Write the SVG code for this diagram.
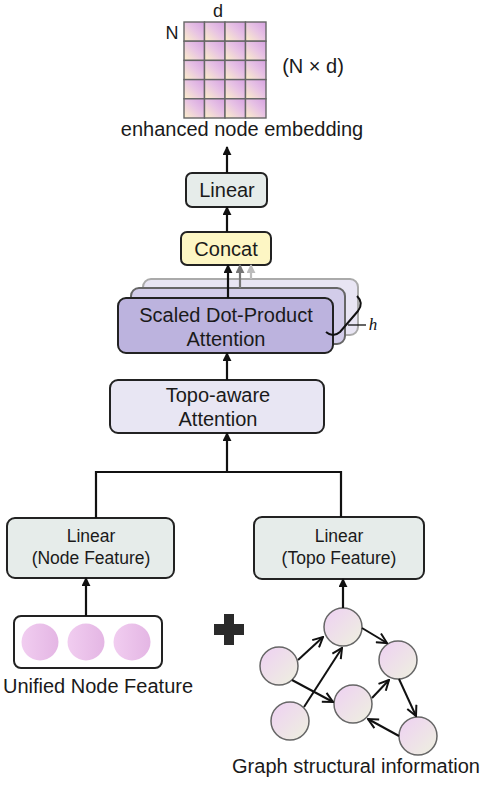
<svg xmlns="http://www.w3.org/2000/svg" width="484" height="787" viewBox="0 0 484 787">
<defs>
<style>
text{font-family:"Liberation Sans",Arial,sans-serif;fill:#1a1a1a;text-anchor:middle}
.t20{font-size:20px}
.t18{font-size:18px}
.t17{font-size:17.5px}
.box{stroke:#222;stroke-width:2}
.ln{stroke:#111;stroke-width:2.2;fill:none}
.gl{stroke:#111;stroke-width:2;fill:none}
.cell{fill:url(#cellG);stroke:#666;stroke-width:1.4}
.gc{fill:url(#gnode);stroke:#666;stroke-width:1.5}
.uc{fill:url(#unode)}
</style>
<linearGradient id="cellG" x1="0" y1="1" x2="1" y2="0">
<stop offset="0" stop-color="#fcefc9"/>
<stop offset="0.55" stop-color="#e7c2e4"/>
<stop offset="1" stop-color="#d6a2e2"/>
</linearGradient>
<linearGradient id="gnode" x1="0" y1="0" x2="1" y2="1">
<stop offset="0" stop-color="#eed0f3"/>
<stop offset="1" stop-color="#eef1df"/>
</linearGradient>
<linearGradient id="unode" x1="0" y1="0" x2="1" y2="0">
<stop offset="0" stop-color="#f1cdf0"/>
<stop offset="1" stop-color="#e4b6e4"/>
</linearGradient>
<marker id="ah" viewBox="0 0 10 10" refX="9" refY="5" markerWidth="9" markerHeight="9" markerUnits="userSpaceOnUse" orient="auto">
<path d="M0,0 L10,5 L0,10 Z" fill="#111"/>
</marker>
<marker id="ahg" viewBox="0 0 10 10" refX="9" refY="5" markerWidth="9" markerHeight="9" markerUnits="userSpaceOnUse" orient="auto">
<path d="M0,0 L10,5 L0,10 Z" fill="#777"/>
</marker>
<marker id="ahl" viewBox="0 0 10 10" refX="9" refY="5" markerWidth="9" markerHeight="9" markerUnits="userSpaceOnUse" orient="auto">
<path d="M0,0 L10,5 L0,10 Z" fill="#bbb"/>
</marker>
<marker id="av" viewBox="0 0 12 12" refX="11" refY="6" markerWidth="12" markerHeight="12" markerUnits="userSpaceOnUse" orient="auto">
<path d="M1,1 L11,6 L1,11" fill="none" stroke="#111" stroke-width="2"/>
</marker>
</defs>
<rect width="484" height="787" fill="#fff"/>

<g id="embedding">
<rect class="cell" x="184" y="22" width="20.5" height="19.2"/>
<rect class="cell" x="204.5" y="22" width="20.5" height="19.2"/>
<rect class="cell" x="225" y="22" width="20.5" height="19.2"/>
<rect class="cell" x="245.5" y="22" width="20.5" height="19.2"/>
<rect class="cell" x="184" y="41.2" width="20.5" height="19.2"/>
<rect class="cell" x="204.5" y="41.2" width="20.5" height="19.2"/>
<rect class="cell" x="225" y="41.2" width="20.5" height="19.2"/>
<rect class="cell" x="245.5" y="41.2" width="20.5" height="19.2"/>
<rect class="cell" x="184" y="60.4" width="20.5" height="19.2"/>
<rect class="cell" x="204.5" y="60.4" width="20.5" height="19.2"/>
<rect class="cell" x="225" y="60.4" width="20.5" height="19.2"/>
<rect class="cell" x="245.5" y="60.4" width="20.5" height="19.2"/>
<rect class="cell" x="184" y="79.6" width="20.5" height="19.2"/>
<rect class="cell" x="204.5" y="79.6" width="20.5" height="19.2"/>
<rect class="cell" x="225" y="79.6" width="20.5" height="19.2"/>
<rect class="cell" x="245.5" y="79.6" width="20.5" height="19.2"/>
<rect class="cell" x="184" y="98.8" width="20.5" height="19.2"/>
<rect class="cell" x="204.5" y="98.8" width="20.5" height="19.2"/>
<rect class="cell" x="225" y="98.8" width="20.5" height="19.2"/>
<rect class="cell" x="245.5" y="98.8" width="20.5" height="19.2"/>
<text class="t18" x="218" y="17">d</text>
<text class="t18" x="172" y="39">N</text>
<text class="t20" x="313" y="73">(N × d)</text>
<text class="t20" x="242" y="136">enhanced node embedding</text>
</g>

<g id="linear-top">
<rect class="box" x="186" y="173" width="81" height="34" rx="6" fill="#e6ecea"/>
<text class="t20" x="227" y="197">Linear</text>
</g>

<g id="concat">
<rect class="box" x="181" y="232" width="90" height="33" rx="6" fill="#fdf6c4"/>
<text class="t20" x="226" y="256">Concat</text>
</g>

<g id="attention-heads">
<rect x="143" y="279" width="215" height="56" rx="8" fill="#e8e5f3" stroke="#aaa" stroke-width="2"/>
<rect x="131" y="288" width="214" height="56" rx="8" fill="#d2cce9" stroke="#666" stroke-width="2"/>
<rect class="box" x="118" y="298" width="215" height="55" rx="8" fill="#bcb3de"/>
<text class="t20" x="226" y="322">Scaled Dot-Product</text>
<text class="t20" x="226" y="346">Attention</text>
<path d="M326,332 Q333,338 340,332 L358,311 Q364,303 357,296" fill="none" stroke="#111" stroke-width="2"/>
<line x1="348" y1="325" x2="366" y2="325" stroke="#111" stroke-width="1.3"/>
<text x="373" y="330" style="font-family:'Liberation Serif','Times New Roman',serif;font-style:italic;font-size:17px;fill:#111">h</text>
</g>

<g id="topo-attention">
<rect class="box" x="110" y="380" width="214" height="53" rx="8" fill="#e8e6f3"/>
<text class="t20" x="218" y="402">Topo-aware</text>
<text class="t20" x="218" y="426">Attention</text>
</g>

<g id="linear-node">
<rect class="box" x="7" y="518" width="167" height="60" rx="8" fill="#e6ecea"/>
<text class="t17" x="91" y="542">Linear</text>
<text class="t17" x="91" y="564">(Node Feature)</text>
</g>

<g id="linear-topo">
<rect class="box" x="254" y="517" width="170" height="62" rx="8" fill="#e6ecea"/>
<text class="t17" x="339" y="542">Linear</text>
<text class="t17" x="339" y="564">(Topo Feature)</text>
</g>

<g id="unified-node-feature">
<rect class="box" x="14" y="616" width="148" height="52" rx="7" fill="#fff"/>
<circle class="uc" cx="40" cy="642" r="18.5"/>
<circle class="uc" cx="86" cy="642" r="18.5"/>
<circle class="uc" cx="132" cy="642" r="18.5"/>
<text class="t20" x="98" y="693">Unified Node Feature</text>
</g>

<g id="plus">
<rect x="214" y="624" width="30" height="11" fill="#2a2a2a"/>
<rect x="224" y="614" width="10" height="31" fill="#2a2a2a"/>
</g>

<g id="graph">
<circle class="gc" id="gA" cx="343" cy="627" r="19"/>
<circle class="gc" id="gB" cx="398" cy="660" r="19"/>
<circle class="gc" id="gC" cx="279" cy="666" r="19"/>
<circle class="gc" id="gD" cx="353" cy="704" r="19"/>
<circle class="gc" id="gE" cx="290" cy="721" r="19"/>
<circle class="gc" id="gF" cx="418" cy="736" r="19"/>
<text class="t20" x="356" y="773">Graph structural information</text>
</g>

<g id="connectors">
<line class="ln" x1="227" y1="173" x2="227" y2="147" marker-end="url(#ah)"/>
<line class="ln" x1="227" y1="232" x2="227" y2="207" marker-end="url(#ah)"/>
<line class="ln" x1="228" y1="298" x2="228" y2="265" marker-end="url(#ah)"/>
<line x1="240" y1="288" x2="240" y2="265" stroke="#777" stroke-width="2.2" marker-end="url(#ahg)"/>
<line x1="251" y1="279" x2="251" y2="265" stroke="#bbb" stroke-width="2.2" marker-end="url(#ahl)"/>
<line class="ln" x1="227" y1="380" x2="227" y2="353" marker-end="url(#ah)"/>
<line class="ln" x1="227" y1="472" x2="227" y2="433" marker-end="url(#ah)"/>
<polyline class="ln" points="96,518 96,472 341,472 341,517" stroke-width="2.6"/>
<line class="ln" x1="86" y1="616" x2="86" y2="578" marker-end="url(#ah)"/>
<line class="ln" x1="343" y1="608" x2="343" y2="579" marker-end="url(#ah)"/>
<line class="gl" x1="298" y1="660" x2="323" y2="637" marker-end="url(#av)"/>
<line class="gl" x1="304" y1="707" x2="342" y2="648" marker-end="url(#av)"/>
<line class="gl" x1="292" y1="680" x2="333" y2="702" marker-end="url(#av)"/>
<line class="gl" x1="362" y1="628" x2="387" y2="643" marker-end="url(#av)"/>
<line class="gl" x1="372" y1="698" x2="389" y2="680" marker-end="url(#av)"/>
<line class="gl" x1="399" y1="679" x2="416" y2="716" marker-end="url(#av)"/>
<line class="gl" x1="399" y1="736" x2="368" y2="719" marker-end="url(#av)"/>
</g>
</svg>
